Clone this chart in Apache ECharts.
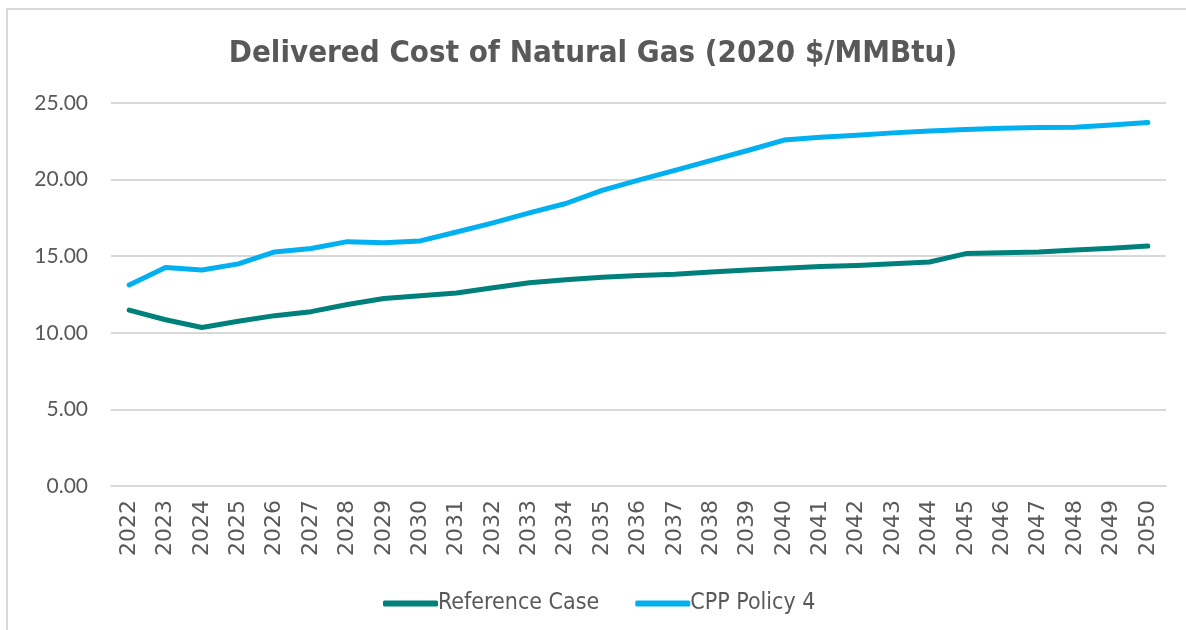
<html>
<head>
	<meta http-equiv="Content-Type" content="text/html; charset=UTF-8">
	<title>charts</title>
	<style>
		html, body { margin: 0; padding: 0; background: #ffffff; }
	</style>
</head>
	<body>
		<div id="gaschart" style="width:1186px; height:630px"></div>

        <script type="text/javascript" src="https://cdn.jsdelivr.net/npm/echarts@6/dist/echarts.min.js"></script>
        <script type="text/javascript">

    // years on the x axis
    var years = ['2022','2023','2024','2025','2026','2027','2028','2029','2030','2031',
                 '2032','2033','2034','2035','2036','2037','2038','2039','2040','2041',
                 '2042','2043','2044','2045','2046','2047','2048','2049','2050'];

    // delivered cost, 2020 $/MMBtu
    var referenceCase = [11.48, 10.85, 10.35, 10.75, 11.12, 11.38, 11.85, 12.24, 12.42, 12.6,
                         12.94, 13.27, 13.47, 13.62, 13.74, 13.82, 13.97, 14.1, 14.22, 14.33,
                         14.4, 14.5, 14.62, 15.17, 15.22, 15.28, 15.4, 15.52, 15.66];
    var cppPolicy4 = [13.12, 14.26, 14.1, 14.5, 15.28, 15.5, 15.95, 15.88, 16.0, 16.58,
                      17.18, 17.83, 18.44, 19.3, 19.96, 20.6, 21.25, 21.9, 22.58, 22.77,
                      22.9, 23.05, 23.18, 23.27, 23.35, 23.4, 23.42, 23.56, 23.73];

    var seriesNames = ['Reference Case', 'CPP Policy 4'];
    var yTicks = { min: 0, max: 25, step: 5 };

    var myChart = echarts.init(document.getElementById('gaschart'));

    var option = {
        backgroundColor: '#ffffff',
        animation: false,
        graphic: [
            {
                type: 'rect',
                shape: { x: 7, y: 9, width: 1300, height: 800 },
                style: { fill: 'none', stroke: '#d9d9d9', lineWidth: 2 },
                silent: true
            }
        ],
        title: {
            text: 'Delivered Cost of Natural Gas (2020 $/MMBtu)',
            left: 'center',
            top: 33,
            textStyle: {
                fontFamily: 'DejaVu Sans Condensed',
                fontWeight: 'bold',
                fontSize: 31,
                color: '#595959'
            }
        },
        legend: {
            top: 587,
            left: 378,
            itemWidth: 55,
            itemHeight: 6,
            itemGap: 36,
            icon: 'roundRect',
            data: seriesNames,
            textStyle: {
                fontFamily: 'DejaVu Sans Condensed',
                fontSize: 23,
                color: '#595959',
                padding: [0, 0, 0, -5]
            }
        },
        grid: {
            left: 111,
            right: 20,
            top: 103,
            bottom: 144
        },
        xAxis: {
            type: 'category',
            boundaryGap: true,
            data: years,
            axisLine: { show: true, lineStyle: { color: '#d9d9d9', width: 2 } },
            axisTick: { show: false },
            axisLabel: {
                rotate: 90,
                margin: 14,
                interval: 0,
                fontFamily: 'DejaVu Sans',
                fontSize: 22,
                color: '#595959'
            }
        },
        yAxis: {
            type: 'value',
            min: yTicks.min,
            max: yTicks.max,
            interval: yTicks.step,
            axisLine: { show: false },
            axisTick: { show: false },
            axisLabel: {
                margin: 23,
                fontFamily: 'Lato',
                fontSize: 21,
                color: '#595959',
                formatter: function (v) { return v.toFixed(2); }
            },
            splitLine: { lineStyle: { color: '#d9d9d9', width: 2 } }
        },
        series: [
            {
                name: seriesNames[0],
                type: 'line',
                data: referenceCase,
                symbol: 'none',
                color: '#00807a',
                lineStyle: { width: 5, color: '#00807a', cap: 'round', join: 'round' }
            },
            {
                name: seriesNames[1],
                type: 'line',
                data: cppPolicy4,
                symbol: 'none',
                color: '#00b0f0',
                lineStyle: { width: 5, color: '#00b0f0', cap: 'round', join: 'round' }
            }
        ]
    };

    myChart.setOption(option);
	</script>
    </body>
</html>
